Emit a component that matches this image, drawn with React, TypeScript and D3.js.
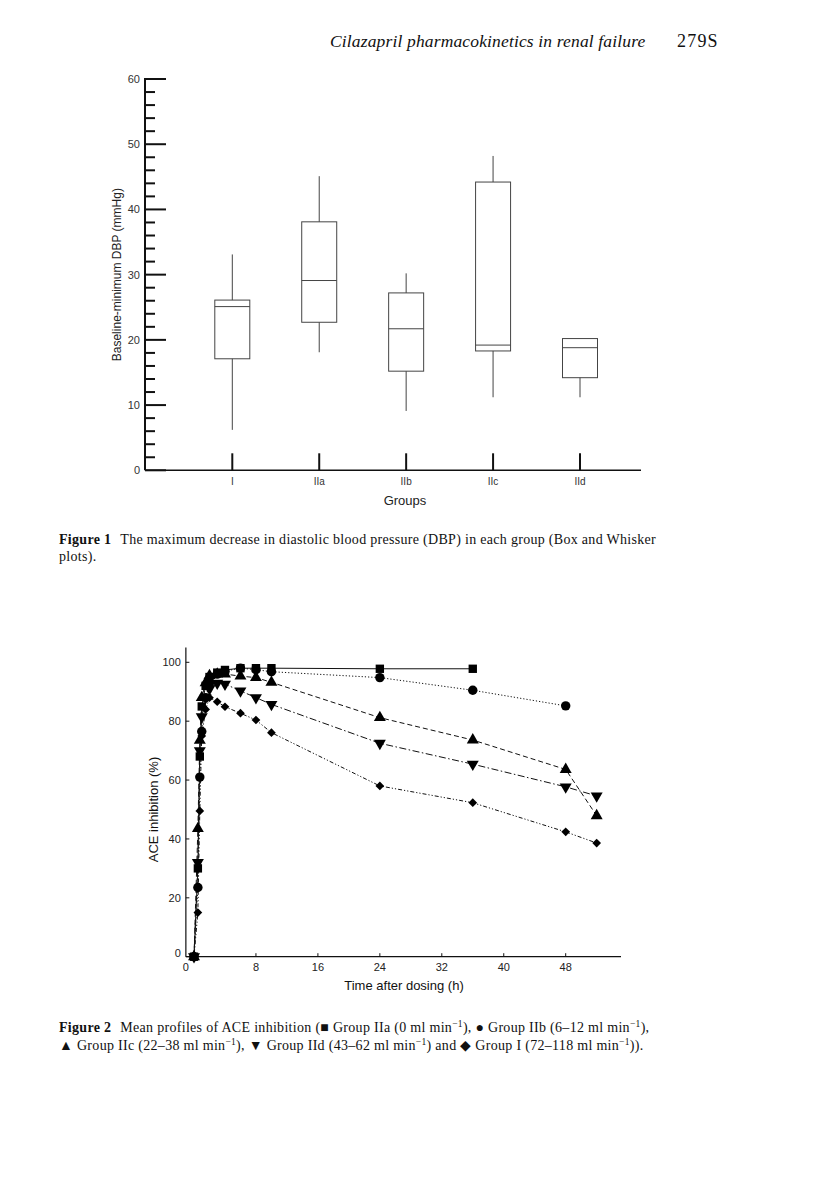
import React from 'react';
import * as d3 from 'd3';

// Figure 1: box and whisker data (mmHg)
const groups = ['I', 'IIa', 'IIb', 'IIc', 'IId'];
const whiskerMin = [6.2, 18.1, 9.1, 11.2, 11.2];
const boxQ1 = [17.1, 22.7, 15.2, 18.3, 14.2];
const boxMedian = [25.1, 29.1, 21.7, 19.2, 18.8];
const boxQ3 = [26.1, 38.1, 27.2, 44.2, 20.2];
const whiskerMax = [33.1, 45.1, 30.2, 48.2, 20.2];
const fig1Ticks = [0, 10, 20, 30, 40, 50, 60];

// Figure 2: ACE inhibition (%) vs time (h)
const times = [0, 0.5, 0.75, 1, 1.5, 2, 3, 4, 6, 8, 10, 24, 36, 48, 52];
const groupIIa = [0, 30, 68, 85, 92, 95, 96.5, 97.4, 98, 98, 98, 97.8, 97.8, null, null];
const groupIIb = [0, 23.5, 61, 76.5, 88, 93, 96, 97, 98, 97.5, 96.8, 94.8, 90.5, 85.2, null];
const groupIIc = [0, 43.5, 73.5, 88, 93, 95.5, 96, 96, 95.3, 94.8, 93.2, 81.2, 73.6, 63.6, 47.9];
const groupIId = [0, 32, 70, 81.5, 88, 91, 92.9, 92.6, 90.3, 88, 85.7, 72.5, 65.4, 57.7, 54.6];
const groupI = [0, 15, 49.5, 75, 84, 88, 86.6, 84.9, 82.7, 80.4, 76.1, 58, 52.3, 42.4, 38.6];
const fig2YTicks = [0, 20, 40, 60, 80, 100];
const fig2XTicks = [8, 16, 24, 32, 40, 48];

const sans = '"Liberation Sans", Arial, sans-serif';
const serif = '"Liberation Serif", "Times New Roman", serif';

const series = [
  { name: 'IIa', values: groupIIa, symbol: d3.symbolSquare, size: 70, rotate: 0, dash: null },
  { name: 'IIb', values: groupIIb, symbol: d3.symbolCircle, size: 70, rotate: 0, dash: '1.2,2' },
  { name: 'IIc', values: groupIIc, symbol: d3.symbolTriangle, size: 62, rotate: 0, dash: '5,3' },
  { name: 'IId', values: groupIId, symbol: d3.symbolTriangle, size: 62, rotate: 180, dash: '7,2.5,1.5,2.5' },
  { name: 'I', values: groupI, symbol: d3.symbolSquare, size: 38, rotate: 45, dash: '4,2,1.2,2,1.2,2' },
];

function Sup({ children }: { children: React.ReactNode }) {
  return (
    <tspan dy={-5} fontSize={9.5}>
      {children}
    </tspan>
  );
}

function BoxPlot() {
  const y = d3.scaleLinear().domain([0, 60]).range([470.3, 79]);
  const x = d3.scalePoint().domain(groups).range([232.3, 580]);
  const axisX = 145;
  const minor = d3.range(0, 61, 2).filter((v) => v % 10 !== 0);
  const bw = 35;
  return (
    <g>
      {/* y axis */}
      <line x1={axisX} x2={axisX} y1={y(60) - 1} y2={y(0)} stroke="#111" strokeWidth={2} />
      {fig1Ticks.map((t) => (
        <g key={t}>
          <line x1={axisX} x2={axisX + 21} y1={y(t)} y2={y(t)} stroke="#111" strokeWidth={2} />
          <text x={axisX - 5} y={y(t) + 4} textAnchor="end" fontFamily={sans} fontSize={11} fill="#333">
            {t}
          </text>
        </g>
      ))}
      {minor.map((t) => (
        <line key={t} x1={axisX} x2={axisX + 10} y1={y(t)} y2={y(t)} stroke="#111" strokeWidth={2} />
      ))}
      {/* x axis */}
      <line x1={axisX} x2={641} y1={y(0)} y2={y(0)} stroke="#111" strokeWidth={1.6} />
      {groups.map((g) => (
        <g key={g}>
          <line x1={x(g)} x2={x(g)} y1={y(0)} y2={y(0) - 17} stroke="#111" strokeWidth={2} />
          <text x={x(g)} y={485} textAnchor="middle" fontFamily={sans} fontSize={10} fill="#333">
            {g}
          </text>
        </g>
      ))}
      <text x={405} y={505} textAnchor="middle" fontFamily={sans} fontSize={13} fill="#222">
        Groups
      </text>
      <text
        transform={`translate(121,${y(30)}) rotate(-90)`}
        textAnchor="middle"
        fontFamily={sans}
        fontSize={12}
        fill="#222"
      >
        Baseline-minimum DBP (mmHg)
      </text>
      {/* boxes */}
      {groups.map((g, i) => {
        const cx = x(g) as number;
        return (
          <g key={g} stroke="#444" strokeWidth={1} fill="none">
            <line x1={cx} x2={cx} y1={y(whiskerMax[i])} y2={y(boxQ3[i])} />
            <line x1={cx} x2={cx} y1={y(boxQ1[i])} y2={y(whiskerMin[i])} />
            <rect x={cx - bw / 2} y={y(boxQ3[i])} width={bw} height={y(boxQ1[i]) - y(boxQ3[i])} />
            <line x1={cx - bw / 2} x2={cx + bw / 2} y1={y(boxMedian[i])} y2={y(boxMedian[i])} />
          </g>
        );
      })}
    </g>
  );
}

function LinePlot() {
  const x = d3.scaleLinear().domain([0, 48]).range([194, 565.7]);
  const y = d3.scaleLinear().domain([0, 100]).range([956.7, 662.3]);
  const x0 = x(-1.05);
  const x1 = 621;
  const line = d3
    .line<number | null>()
    .defined((d) => d !== null)
    .x((_, i) => x(times[i]))
    .y((d) => y(d as number));
  return (
    <g>
      {/* axes */}
      <line x1={x0} x2={x0} y1={y(105)} y2={y(0)} stroke="#111" strokeWidth={1.2} />
      <line x1={x0} x2={x1} y1={y(0)} y2={y(0)} stroke="#111" strokeWidth={1.2} />
      {fig2YTicks.map((t) => (
        <g key={t}>
          <line x1={x0} x2={x0 + 3.5} y1={y(t)} y2={y(t)} stroke="#111" strokeWidth={1} />
          <text x={x0 - 5} y={y(t) + (t === 0 ? 0 : 4)} textAnchor="end" fontFamily={sans} fontSize={11} fill="#222">
            {t}
          </text>
        </g>
      ))}
      <text x={x0} y={971} textAnchor="middle" fontFamily={sans} fontSize={11} fill="#222">
        0
      </text>
      {fig2XTicks.map((t) => (
        <g key={t}>
          <line x1={x(t)} x2={x(t)} y1={y(0)} y2={y(0) - 3.5} stroke="#111" strokeWidth={1} />
          <text x={x(t)} y={971} textAnchor="middle" fontFamily={sans} fontSize={11} fill="#222">
            {t}
          </text>
        </g>
      ))}
      <text x={404} y={990} textAnchor="middle" fontFamily={sans} fontSize={13} fill="#111">
        Time after dosing (h)
      </text>
      <text
        transform={`translate(158,${y(50)}) rotate(-90)`}
        textAnchor="middle"
        fontFamily={sans}
        fontSize={13}
        fill="#111"
      >
        ACE inhibition (%)
      </text>
      {/* series */}
      {series.map((s) => (
        <path
          key={s.name}
          d={line(s.values) ?? ''}
          fill="none"
          stroke="#111"
          strokeWidth={1}
          strokeDasharray={s.dash ?? undefined}
        />
      ))}
      {series.map((s) => {
        const sym = d3.symbol().type(s.symbol).size(s.size)();
        return (
          <g key={s.name + 'm'}>
            {s.values.map((v, i) =>
              v === null ? null : (
                <path
                  key={i}
                  d={sym ?? ''}
                  fill="#000"
                  transform={`translate(${x(times[i])},${y(v)}) rotate(${s.rotate})`}
                />
              )
            )}
          </g>
        );
      })}
    </g>
  );
}

export default function App() {
  return (
    <svg
      width={816}
      height={1181}
      viewBox="0 0 816 1181"
      style={{ position: 'absolute', left: 0, top: 0, background: '#fff' }}
    >
      <rect width={816} height={1181} fill="#fff" />
      <text x={330} y={47} fontFamily={serif} fontStyle="italic" fontSize={17.5} letterSpacing={0.15} fill="#111">
        Cilazapril pharmacokinetics in renal failure
      </text>
      <text x={677} y={47} fontFamily={serif} fontSize={18} letterSpacing={1.2} fill="#111">
        279S
      </text>
      <BoxPlot />
      <text x={59} y={544} fontFamily={serif} fontSize={14} letterSpacing={0.3} fill="#111">
        <tspan fontWeight="bold">Figure 1</tspan>
        <tspan dx={9}>The maximum decrease in diastolic blood pressure (DBP) in each group (Box and Whisker</tspan>
        <tspan x={59} y={561}>plots).</tspan>
      </text>
      <LinePlot />
      <text x={59} y={1032} fontFamily={serif} fontSize={14} letterSpacing={0.3} fill="#111">
        <tspan fontWeight="bold">Figure 2</tspan>
        <tspan dx={9}>Mean profiles of ACE inhibition (■ Group IIa (0 ml min</tspan>
        <Sup>−1</Sup>
        <tspan dy={5}>), ● Group IIb (6–12 ml min</tspan>
        <Sup>−1</Sup>
        <tspan dy={5}>),</tspan>
        <tspan x={59} y={1050}>▲ Group IIc (22–38 ml min</tspan>
        <Sup>−1</Sup>
        <tspan dy={5}>), ▼ Group IId (43–62 ml min</tspan>
        <Sup>−1</Sup>
        <tspan dy={5}>) and ◆ Group I (72–118 ml min</tspan>
        <Sup>−1</Sup>
        <tspan dy={5}>)).</tspan>
      </text>
    </svg>
  );
}
